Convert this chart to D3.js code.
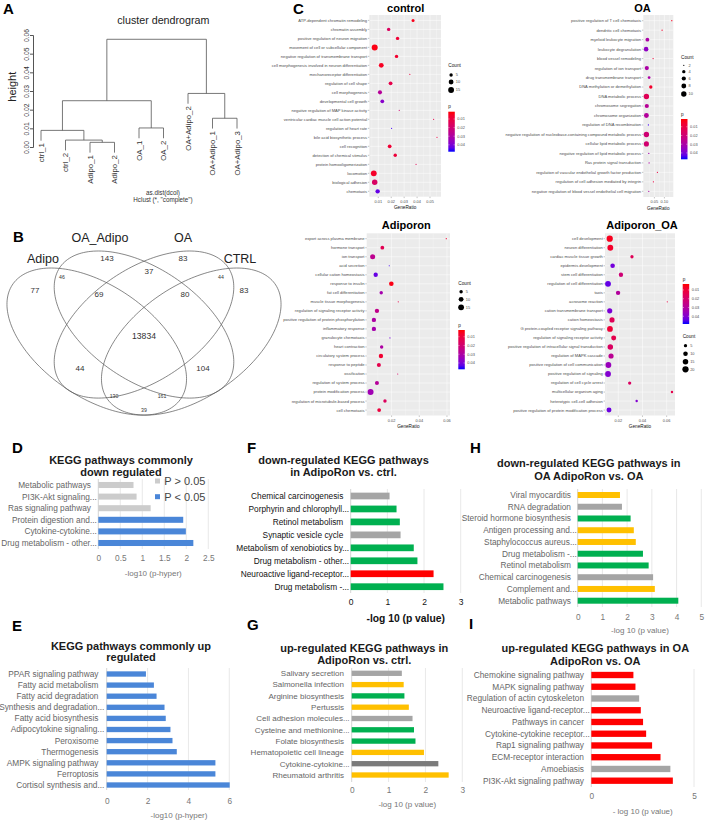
<!DOCTYPE html>
<html>
<head>
<meta charset="utf-8">
<title>Figure</title>
<script src="https://cdn.jsdelivr.net/npm/d3@7/dist/d3.min.js"></script>
<style>
  html, body { margin: 0; padding: 0; background: #fff; }
  svg { display: block; font-family: "Liberation Sans", Arial, Helvetica, sans-serif; }
</style>
</head>
<body>
<svg id="fig" width="705" height="820"></svg>
<script>
// ---------- A: cluster dendrogram ----------
const dendroLeaves = ['ctrl_1', 'ctrl_2', 'Adipo_1', 'Adipo_2', 'OA_1', 'OA_2', 'OA+Adipo_2', 'OA+Adipo_1', 'OA+Adipo_3'];
// hclust style: negative = leaf (1-based index above), positive = earlier merge row
const dendroMerges = [[-3, -4], [-2, 1], [-1, 2], [-5, -6], [-8, -9], [3, 4], [-7, 5], [6, 7]];
const dendroHeights = [0.0025, 0.0037, 0.0089, 0.0102, 0.0154, 0.0248, 0.0287, 0.0577];
const dendroTicks = [0, 0.01, 0.02, 0.03, 0.04, 0.05, 0.06];

// ---------- B: venn ----------
const vennSets = ['Adipo', 'OA_Adipo', 'OA', 'CTRL'];
const vennCounts = [143, 83, 37, 46, 44, 77, 83, 69, 80, 13834, 44, 104, 130, 161, 39];
const vennSmall = [false, false, false, true, true, false, false, false, false, false, false, false, true, true, true];

// ---------- C: GO dot plots ----------
const ctrlTerms = ['ATP-dependent chromatin remodeling', 'chromatin assembly', 'positive regulation of neuron migration',
  'movement of cell or subcellular component', 'negative regulation of transmembrane transport',
  'cell morphogenesis involved in neuron differentiation', 'mechanoreceptor differentiation', 'regulation of cell shape',
  'cell morphogenesis', 'developmental cell growth', 'negative regulation of MAP kinase activity',
  'ventricular cardiac muscle cell action potential', 'regulation of heart rate', 'bile acid biosynthetic process',
  'cell recognition', 'detection of chemical stimulus', 'protein homooligomerization', 'locomotion',
  'biological adhesion', 'chemotaxis'];
const ctrlRatio = [0.0369, 0.018, 0.0249, 0.0072, 0.0241, 0.0123, 0.0344, 0.0195, 0.0113, 0.0131,
  0.0262, 0.0528, 0.0203, 0.0554, 0.0188, 0.0231, 0.0392, 0.0065, 0.0072, 0.0095];
const ctrlCount = [4, 5, 5, 16, 5, 10, 2, 6, 7, 6, 2, 2, 2, 2, 6, 5, 2, 15, 13, 8];
const ctrlP = [0.004, 0.016, 0.008, 0.003, 0.007, 0.005, 0.01, 0.012, 0.028, 0.038,
  0.02, 0.012, 0.046, 0.01, 0.008, 0.009, 0.014, 0.006, 0.017, 0.043];

const oaTerms = ['positive regulation of T cell chemotaxis', 'dendritic cell chemotaxis', 'myeloid leukocyte migration',
  'leukocyte degranulation', 'blood vessel remodeling', 'regulation of ion transport', 'drug transmembrane transport',
  'DNA methylation or demethylation', 'DNA metabolic process', 'chromosome segregation', 'chromosome organization',
  'regulation of DNA recombination', 'negative regulation of nucleobase-containing compound metabolic process',
  'cellular lipid metabolic process', 'negative regulation of lipid metabolic process', 'Ras protein signal transduction',
  'regulation of vascular endothelial growth factor production', 'regulation of cell adhesion mediated by integrin',
  'negative regulation of blood vessel endothelial cell migration'];
const oaRatio = [0.137, 0.0885, 0.015, 0.0085, 0.0435, 0.012, 0.0235, 0.032, 0.01, 0.012,
  0.01, 0.02, 0.01, 0.01, 0.022, 0.0235, 0.065, 0.045, 0.022];
const oaCount = [2, 2, 5, 7, 2, 6, 3, 4, 10, 6, 8, 2, 10, 9, 2, 2, 2, 2, 2];
const oaP = [0.004, 0.006, 0.03, 0.036, 0.008, 0.03, 0.03, 0.006, 0.014, 0.027,
  0.028, 0.045, 0.02, 0.019, 0.032, 0.03, 0.01, 0.01, 0.03];

const adTerms = ['export across plasma membrane', 'hormone transport', 'ion transport', 'acid secretion',
  'cellular cation homeostasis', 'response to insulin', 'fat cell differentiation', 'muscle tissue morphogenesis',
  'regulation of signaling receptor activity', 'positive regulation of protein phosphorylation', 'inflammatory response',
  'granulocyte chemotaxis', 'heart contraction', 'circulatory system process', 'response to peptide',
  'ossification', 'regulation of system process', 'protein modification process',
  'regulation of microtubule-based process', 'cell chemotaxis'];
const adRatio = [0.0595, 0.0133, 0.0063, 0.0183, 0.0085, 0.0198, 0.0125, 0.0248, 0.0094, 0.0072,
  0.0072, 0.0188, 0.0128, 0.0123, 0.0108, 0.0244, 0.0094, 0.0048, 0.0152, 0.011];
const adCount = [2, 6, 11, 2, 8, 9, 5, 2, 8, 8, 8, 2, 5, 8, 7, 2, 7, 16, 5, 6];
const adP = [0.008, 0.014, 0.026, 0.045, 0.042, 0.004, 0.032, 0.012, 0.025, 0.03,
  0.032, 0.04, 0.03, 0.008, 0.013, 0.018, 0.028, 0.033, 0.016, 0.01];

const adoaTerms = ['cell development', 'neuron differentiation', 'cardiac muscle tissue growth', 'epidermis development',
  'stem cell differentiation', 'regulation of cell differentiation', 'taxis', 'acrosome reaction',
  'cation transmembrane transport', 'cation homeostasis', 'G protein-coupled receptor signaling pathway',
  'regulation of signaling receptor activity', 'positive regulation of intracellular signal transduction',
  'regulation of MAPK cascade', 'positive regulation of cell communication', 'positive regulation of signaling',
  'regulation of cell cycle arrest', 'multicellular organism aging', 'heterotypic cell-cell adhesion',
  'positive regulation of protein modification process'];
const adoaRatio = [0.0129, 0.0134, 0.0313, 0.0153, 0.0222, 0.0115, 0.0198, 0.0605, 0.0129, 0.0148,
  0.0131, 0.0162, 0.0134, 0.014, 0.0118, 0.0115, 0.0294, 0.0644, 0.0352, 0.0123];
const adoaCount = [20, 17, 5, 10, 9, 17, 9, 2, 13, 13, 17, 12, 15, 13, 17, 17, 5, 3, 3, 12];
const adoaP = [0.006, 0.008, 0.016, 0.042, 0.022, 0.044, 0.03, 0.012, 0.041, 0.016,
  0.01, 0.014, 0.018, 0.028, 0.036, 0.04, 0.018, 0.014, 0.04, 0.043];

const ctrlTicks = [0.01, 0.02, 0.03, 0.04, 0.05];
const oaTicks = [0.05, 0.10];
const adTicks = [0.02, 0.04, 0.06];
const pBreaks = [0.01, 0.02, 0.03, 0.04];

// ---------- D-I: KEGG bar charts ----------
const dTerms = ['Metabolic pathways', 'PI3K-Akt signaling...', 'Ras signaling pathway', 'Protein digestion and...',
  'Cytokine-cytokine...', 'Drug metabolism - other...'];
const dValues = [0.8, 0.87, 1.19, 1.93, 1.99, 2.16];
const dSig = ['P > 0.05', 'P > 0.05', 'P > 0.05', 'P < 0.05', 'P < 0.05', 'P < 0.05'];
const dLegend = ['P > 0.05', 'P < 0.05'];

const eTerms = ['PPAR signaling pathway', 'Fatty acid metabolism', 'Fatty acid degradation', 'Synthesis and degradation...',
  'Fatty acid biosynthesis', 'Adipocytokine signaling...', 'Peroxisome', 'Thermogenesis', 'AMPK signaling pathway',
  'Ferroptosis', 'Cortisol synthesis and...'];
const eValues = [1.92, 2.31, 2.44, 2.83, 2.89, 3.12, 3.22, 3.43, 5.32, 5.32, 6.02];

const fTerms = ['Chemical carcinogenesis', 'Porphyrin and chlorophyll...', 'Retinol metabolism', 'Synaptic vesicle cycle',
  'Metabolism of xenobiotics by...', 'Drug metabolism - other...', 'Neuroactive ligand-receptor...', 'Drug metabolism -...'];
const fValues = [1.06, 1.25, 1.34, 1.36, 1.72, 1.82, 2.26, 2.53];
const fGroups = ['grey', 'green', 'green', 'grey', 'green', 'green', 'red', 'green'];

const gTerms = ['Salivary secretion', 'Salmonella infection', 'Arginine biosynthesis', 'Pertussis',
  'Cell adhesion molecules...', 'Cysteine and methionine...', 'Folate biosynthesis', 'Hematopoietic cell lineage',
  'Cytokine-cytokine...', 'Rheumatoid arthritis'];
const gValues = [1.36, 1.41, 1.43, 1.55, 1.65, 1.69, 1.73, 1.96, 2.35, 2.63];
const gGroups = ['grey', 'yellow', 'green', 'yellow', 'grey', 'green', 'green', 'yellow', 'darkgrey', 'yellow'];

const hTerms = ['Viral myocarditis', 'RNA degradation', 'Steroid hormone biosynthesis', 'Antigen processing and...',
  'Staphylococcus aureus...', 'Drug metabolism -...', 'Retinol metabolism', 'Chemical carcinogenesis',
  'Complement and...', 'Metabolic pathways'];
const hValues = [1.71, 1.79, 2.14, 2.27, 2.35, 2.64, 2.87, 3.05, 3.12, 4.07];
const hGroups = ['yellow', 'grey', 'green', 'yellow', 'yellow', 'green', 'green', 'grey', 'yellow', 'green'];

const iTerms = ['Chemokine signaling pathway', 'MAPK signaling pathway', 'Regulation of actin cytoskeleton',
  'Neuroactive ligand-receptor...', 'Pathways in cancer', 'Cytokine-cytokine receptor...', 'Rap1 signaling pathway',
  'ECM-receptor interaction', 'Amoebiasis', 'PI3K-Akt signaling pathway'];
const iValues = [2.05, 2.15, 2.33, 2.41, 2.52, 2.67, 2.96, 3.37, 3.85, 3.97];
const iGroups = ['red', 'red', 'grey', 'red', 'red', 'red', 'red', 'red', 'grey', 'red'];

const panelLetters = ['A', 'B', 'C', 'D', 'E', 'F', 'G', 'H', 'I'];

// ======================================================================
const svg = d3.select('#fig');
const groupColor = { grey: '#a5a5a5', green: '#00b050', red: '#ff0000', yellow: '#ffc000', darkgrey: '#7b7b7b' };
const sigColor = { 'P > 0.05': '#cccccc', 'P < 0.05': '#4a86d8' };

function label(g, x, y, s, o = {}) {
  return g.append('text').attr('x', x).attr('y', y).attr('dy', o.dy || '0.35em')
    .attr('font-size', o.size || 8).attr('fill', o.fill || '#000')
    .attr('font-weight', o.bold ? 'bold' : null)
    .attr('text-anchor', o.anchor || 'middle').text(s);
}

// ---------- A ----------
(function drawDendrogram() {
  const g = svg.append('g');
  const y = d3.scaleLinear().domain([0, 0.06]).range([147, 35]);
  const x = d3.scalePoint().domain(dendroLeaves).range([41, 237]);
  const hang = 0.1 * (d3.max(dendroHeights) - d3.min(dendroHeights));
  const nodes = [];
  const ref = (r, h) => r < 0
    ? { x: x(dendroLeaves[-r - 1]), h: h - hang, leaf: dendroLeaves[-r - 1] }
    : nodes[r - 1];

  dendroMerges.forEach((m, i) => {
    const h = dendroHeights[i];
    const a = ref(m[0], h), b = ref(m[1], h);
    nodes.push({ x: (a.x + b.x) / 2, h });
    const p = d3.path();
    p.moveTo(a.x, y(a.h)); p.lineTo(a.x, y(h)); p.lineTo(b.x, y(h)); p.lineTo(b.x, y(b.h));
    g.append('path').attr('d', p.toString()).attr('fill', 'none')
      .attr('stroke', '#555').attr('stroke-width', 0.8);
    [a, b].filter(c => c.leaf).forEach(c => {
      g.append('text').attr('transform', `translate(${c.x},${y(c.h) + 2.5}) rotate(-90)`)
        .attr('text-anchor', 'end').attr('dy', '0.35em')
        .attr('font-size', 7.8).attr('fill', '#333').text(c.leaf);
    });
  });

  const ax = g.append('g').attr('transform', 'translate(33,0)')
    .call(d3.axisLeft(y).tickValues(dendroTicks).tickFormat(d3.format('.2f')).tickSize(3));
  ax.select('.domain').attr('stroke', '#555');
  ax.selectAll('.tick line').attr('stroke', '#555');
  ax.selectAll('.tick text').attr('x', 0).attr('dy', 0)
    .attr('transform', 'translate(-4,0) rotate(-90)').attr('text-anchor', 'middle')
    .attr('font-size', 6.8).attr('fill', '#333');

  label(g, 163.3, 20.5, 'cluster dendrogram', { size: 10.7, fill: '#222' });
  g.append('text').attr('transform', 'translate(12.5,86.7) rotate(-90)').attr('text-anchor', 'middle')
    .attr('dy', '0.35em').attr('font-size', 11).attr('fill', '#222').text('height');
  label(g, 163, 192.7, 'as.dist(dcol)', { size: 6.3, fill: '#333' });
  label(g, 163, 199.5, 'Hclust (*, "complete")', { size: 6.3, fill: '#333' });
})();

// ---------- B ----------
(function drawVenn() {
  const g = svg.append('g');
  const x = d3.scaleLinear().domain([0, 1]).range([-13.5, 301.5]);
  const y = d3.scaleLinear().domain([0, 1]).range([471.6, 213.6]);
  const shapes = [
    { cx: 0.35, cy: 0.504, rot: -45 }, { cx: 0.5, cy: 0.57, rot: -45 },
    { cx: 0.5, cy: 0.57, rot: 45 }, { cx: 0.65, cy: 0.504, rot: 45 }];
  const semiA = 0.35, semiB = 0.2;
  const line = d3.line().x(d => x(d[0])).y(d => y(d[1])).curve(d3.curveLinearClosed);
  shapes.forEach(s => {
    const th = s.rot * Math.PI / 180;
    const pts = d3.range(0, 360, 2).map(t => {
      const r = t * Math.PI / 180, u = semiA * Math.cos(r), v = semiB * Math.sin(r);
      return [s.cx + u * Math.cos(th) - v * Math.sin(th), s.cy + u * Math.sin(th) + v * Math.cos(th)];
    });
    g.append('path').attr('d', line(pts)).attr('fill', 'none').attr('stroke', '#555').attr('stroke-width', 0.7);
  });

  const setPos = [[0.1794, 0.824], [0.3603, 0.9054], [0.6238, 0.9054], [0.8048, 0.824]];
  vennSets.forEach((s, i) => label(g, x(setPos[i][0]), y(setPos[i][1]), s, { size: 12.5, fill: '#222' }));

  const regionPos = [[0.3825, 0.8279], [0.6238, 0.8279], [0.5159, 0.7775], [0.2397, 0.7543], [0.7444, 0.7543],
    [0.154, 0.7039], [0.8175, 0.7039], [0.3571, 0.6884], [0.6302, 0.6884], [0.5, 0.5256],
    [0.2968, 0.4016], [0.6873, 0.4016], [0.4048, 0.293], [0.5571, 0.293], [0.5, 0.2388]];
  vennCounts.forEach((c, i) => label(g, x(regionPos[i][0]), y(regionPos[i][1]), c,
    { size: vennSmall[i] ? 5.2 : (c > 9999 ? 8.6 : 8), fill: '#333' }));
})();

// ---------- C ----------
function dotPlot(cfg) {
  const g = svg.append('g');
  const [x0, x1, y0, y1] = cfg.box;
  const x = d3.scaleLinear().domain(cfg.xDomain).range([x0, x1]);
  const y = d3.scalePoint().domain(d3.range(cfg.terms.length)).range([y0, y1]).padding(0.6);
  const col = d3.scaleLinear().domain(cfg.pLimits).range(['#ff0000', '#0000ff']).interpolate(d3.interpolateLab);
  const sz = d3.scaleSqrt().domain([0, cfg.countDomain[1] - cfg.countDomain[0]]).range([0, 1]);
  const rad = c => cfg.rRange[0] + sz(Math.max(0, c - cfg.countDomain[0])) * (cfg.rRange[1] - cfg.rRange[0]);

  g.append('rect').attr('x', x0).attr('y', y0).attr('width', x1 - x0).attr('height', y1 - y0).attr('fill', '#ebebeb');
  const st = cfg.xTicks[1] - cfg.xTicks[0];
  const minor = d3.range(cfg.xTicks[0] - st / 2, cfg.xDomain[1], st).filter(v => v > cfg.xDomain[0]);
  g.selectAll('line.mn').data(minor).join('line').attr('x1', d => x(d)).attr('x2', d => x(d))
    .attr('y1', y0).attr('y2', y1).attr('stroke', '#fff').attr('stroke-width', 0.25);
  g.selectAll('line.mj').data(cfg.xTicks).join('line').attr('x1', d => x(d)).attr('x2', d => x(d))
    .attr('y1', y0).attr('y2', y1).attr('stroke', '#fff').attr('stroke-width', 0.5);
  g.selectAll('line.rw').data(y.domain()).join('line').attr('x1', x0).attr('x2', x1)
    .attr('y1', d => y(d)).attr('y2', d => y(d)).attr('stroke', '#fff').attr('stroke-width', 0.5);

  g.selectAll('circle.pt').data(cfg.terms).join('circle')
    .attr('cx', (d, i) => x(cfg.ratio[i])).attr('cy', (d, i) => y(i))
    .attr('r', (d, i) => rad(cfg.count[i])).attr('fill', (d, i) => col(cfg.p[i]));

  // y axis
  g.selectAll('line.yt').data(y.domain()).join('line').attr('x1', x0 - 1.4).attr('x2', x0)
    .attr('y1', d => y(d)).attr('y2', d => y(d)).attr('stroke', '#333').attr('stroke-width', 0.3);
  g.selectAll('text.yl').data(cfg.terms).join('text').attr('x', x0 - 2.2).attr('y', (d, i) => y(i))
    .attr('dy', '0.35em').attr('text-anchor', 'end').attr('font-size', 4.1).attr('fill', '#4d4d4d').text(d => d);
  // x axis
  g.selectAll('line.xt').data(cfg.xTicks).join('line').attr('x1', d => x(d)).attr('x2', d => x(d))
    .attr('y1', y1).attr('y2', y1 + 1.4).attr('stroke', '#333').attr('stroke-width', 0.3);
  g.selectAll('text.xl').data(cfg.xTicks).join('text').attr('x', d => x(d)).attr('y', y1 + 4.8)
    .attr('dy', '0.35em').attr('text-anchor', 'middle').attr('font-size', 3.9).attr('fill', '#4d4d4d')
    .text(d3.format('.2f'));
  label(g, (x0 + x1) / 2, y1 + 11, 'GeneRatio', { size: 4.7, fill: '#111' });
  g.append('text').attr('x', cfg.titleX).attr('y', cfg.titleBase).attr('text-anchor', 'middle')
    .attr('font-size', 11).attr('font-weight', 'bold').attr('fill', '#000').text(cfg.title);

  // count legend
  const L = cfg.legend;
  g.append('text').attr('x', L.x).attr('y', L.countTitle).attr('font-size', 4.7).attr('fill', '#111').text('Count');
  cfg.countBreaks.forEach((b, i) => {
    g.append('circle').attr('cx', L.x + 2.8).attr('cy', L.countY[i]).attr('r', rad(b)).attr('fill', '#000');
    g.append('text').attr('x', L.x + 7.5).attr('y', L.countY[i]).attr('dy', '0.35em')
      .attr('font-size', 3.9).attr('fill', '#4d4d4d').text(b);
  });
  // p colour bar
  g.append('text').attr('x', L.x).attr('y', L.pTitle).attr('font-size', 4.7).attr('fill', '#111').text('p');
  const gid = 'grad' + cfg.title;
  const grad = svg.append('defs').append('linearGradient').attr('id', gid)
    .attr('x1', 0).attr('y1', 0).attr('x2', 0).attr('y2', 1);
  const pv = d3.scaleLinear().domain([0, 1]).range(cfg.pLimits);
  d3.range(0, 1.0001, 0.1).forEach(t => grad.append('stop').attr('offset', t).attr('stop-color', col(pv(t))));
  const bw = 6.5;
  g.append('rect').attr('x', L.x).attr('y', L.bar[0]).attr('width', bw).attr('height', L.bar[1] - L.bar[0])
    .attr('fill', `url(#${gid})`);
  const py = d3.scaleLinear().domain(cfg.pLimits).range(L.bar);
  pBreaks.forEach(b => {
    g.append('line').attr('x1', L.x).attr('x2', L.x + 1.3).attr('y1', py(b)).attr('y2', py(b))
      .attr('stroke', '#fff').attr('stroke-width', 0.4);
    g.append('line').attr('x1', L.x + bw - 1.3).attr('x2', L.x + bw).attr('y1', py(b)).attr('y2', py(b))
      .attr('stroke', '#fff').attr('stroke-width', 0.4);
    g.append('text').attr('x', L.x + bw + 2.5).attr('y', py(b)).attr('dy', '0.35em')
      .attr('font-size', 3.9).attr('fill', '#4d4d4d').text(d3.format('.2f')(b));
  });
}

dotPlot({ title: 'control', terms: ctrlTerms, ratio: ctrlRatio, count: ctrlCount, p: ctrlP,
  box: [369.3, 441, 15, 196.7], xDomain: [0.00304, 0.0585], xTicks: ctrlTicks,
  titleX: 405.7, titleBase: 11.7, pLimits: [0.0015, 0.048], countDomain: [2, 16], rRange: [0.6, 3.0],
  countBreaks: [5, 10, 15],
  legend: { x: 448.3, countTitle: 67.3, countY: [75, 82, 90], pTitle: 108.3, bar: [111.7, 151.7] } });

dotPlot({ title: 'OA', terms: oaTerms, ratio: oaRatio, count: oaCount, p: oaP,
  box: [643.3, 673.3, 15, 197], xDomain: [-0.0055, 0.1445], xTicks: oaTicks,
  titleX: 642.5, titleBase: 11.7, pLimits: [0.0011, 0.0473], countDomain: [2, 10], rRange: [0.65, 2.7],
  countBreaks: [2, 4, 6, 8, 10],
  legend: { x: 681, countTitle: 58.6, countY: [65.3, 71.7, 78.5, 86, 94], pTitle: 116, bar: [119, 159.3] } });

dotPlot({ title: 'Adiporon', terms: adTerms, ratio: adRatio, count: adCount, p: adP,
  box: [366.7, 450, 233.3, 415.5], xDomain: [0.002, 0.0622], xTicks: adTicks,
  titleX: 406.3, titleBase: 228.5, pLimits: [0.0023, 0.0472], countDomain: [2, 16], rRange: [0.6, 3.0],
  countBreaks: [5, 10, 15],
  legend: { x: 458.3, countTitle: 285, countY: [291.7, 299.3, 307.3], pTitle: 326.7, bar: [330, 369.3] } });

dotPlot({ title: 'Adiporon_OA', terms: adoaTerms, ratio: adoaRatio, count: adoaCount, p: adoaP,
  box: [605, 675, 233.3, 415.5], xDomain: [0.009, 0.0669], xTicks: adTicks,
  titleX: 642, titleBase: 228.5, pLimits: [0.0032, 0.0488], countDomain: [2, 21], rRange: [0.6, 3.2],
  countBreaks: [5, 10, 15, 20],
  legend: { x: 682.7, countTitle: 338.3, countY: [345.7, 353.7, 361.7, 369.3], pTitle: 281, bar: [284, 324] } });

// ---------- D-I ----------
function barChart(cfg) {
  const g = svg.append('g');
  const n = cfg.terms.length;
  const x = d3.scaleLinear().domain(cfg.xDomain).range(cfg.xRange);
  const step = (cfg.yLast - cfg.yFirst) / (n - 1);
  const y = d3.scaleBand().domain(d3.range(n)).range([cfg.yFirst - step / 2, cfg.yLast + step / 2])
    .paddingInner(cfg.pad).paddingOuter(cfg.pad / 2);

  g.selectAll('line.grid').data(cfg.ticks).join('line')
    .attr('x1', d => x(d)).attr('x2', d => x(d)).attr('y1', cfg.gridY[0]).attr('y2', cfg.gridY[1])
    .attr('stroke', d => d === 0 ? '#c8c8c8' : '#e2e2e2').attr('stroke-width', 0.8);

  g.selectAll('rect.bar').data(cfg.values).join('rect')
    .attr('x', x(0)).attr('y', (d, i) => y(i)).attr('width', d => x(d) - x(0))
    .attr('height', y.bandwidth()).attr('fill', (d, i) => cfg.colors[i]);

  const ls = cfg.labelSize || 8.3;
  g.selectAll('text.cat').data(cfg.terms).join('text')
    .attr('x', d => cfg.labelX + (d.endsWith('...') ? ls * 0.7 : 0))
    .attr('y', (d, i) => y(i) + y.bandwidth() / 2).attr('dy', '0.35em')
    .attr('text-anchor', 'end').attr('font-size', ls).attr('fill', cfg.labelFill || '#666').text(d => d);

  const ax = g.append('g').attr('transform', `translate(0,${cfg.tickY})`)
    .call(d3.axisBottom(x).tickValues(cfg.ticks).tickSize(0).tickPadding(0).tickFormat(d => d));
  ax.select('.domain').remove();
  ax.selectAll('text').attr('y', 0).attr('dy', '0.35em').attr('font-size', cfg.tickSize || 8.3)
    .attr('fill', cfg.tickFill || '#777').attr('font-family', null);

  label(g, cfg.axisTitleX, cfg.axisTitleY, cfg.axisTitle,
    { size: cfg.axisTitleSize || 8, fill: cfg.axisTitleFill || '#777', bold: cfg.axisTitleBold });
  cfg.titleLines.forEach((t, i) => label(g, cfg.titleX, cfg.titleY[i], t, { size: 11, bold: true, fill: '#1a1a1a' }));
  return g;
}

const gD = barChart({ terms: dTerms, values: dValues, colors: dSig.map(s => sigColor[s]),
  xDomain: [0, 2.5], xRange: [98.3, 208.3], ticks: [0, 0.5, 1, 1.5, 2, 2.5],
  yFirst: 485, yLast: 543, pad: 0.48, gridY: [479, 549], labelX: 91, tickY: 558.3,
  axisTitle: '-log10 (p-hyper)', axisTitleX: 153.3, axisTitleY: 573.3,
  titleLines: ['KEGG pathways commonly', 'down regulated'], titleX: 121, titleY: [460, 471.7] });
dLegend.forEach((s, i) => {
  const cy = [481, 496.7][i];
  gD.append('rect').attr('x', 155).attr('y', cy - 2.5).attr('width', 5).attr('height', 5).attr('fill', sigColor[s]);
  label(gD, 164.3, cy, s, { size: 11, fill: '#444', anchor: 'start' });
});

barChart({ terms: eTerms, values: eValues, colors: eTerms.map(() => sigColor['P < 0.05']),
  xDomain: [0, 6], xRange: [106.7, 229.3], ticks: [0, 2, 4, 6],
  yFirst: 674, yLast: 785, pad: 0.52, gridY: [668, 790], labelX: 98.5, tickY: 800.7,
  axisTitle: '-log10 (p-hyper)', axisTitleX: 179, axisTitleY: 815,
  titleLines: ['KEGG pathways commonly up', 'regulated'], titleX: 131, titleY: [645.7, 656.7] });

barChart({ terms: fTerms, values: fValues, colors: fGroups.map(k => groupColor[k]),
  xDomain: [0, 3], xRange: [350.7, 460.7], ticks: [0, 1, 2, 3],
  yFirst: 496, yLast: 586.7, pad: 0.48, gridY: [489, 593], labelX: 343.3, labelFill: '#111',
  tickY: 602.3, tickFill: '#111', tickSize: 8.5,
  axisTitle: '-log 10 (p value)', axisTitleX: 405.7, axisTitleY: 618.3, axisTitleSize: 10.3,
  axisTitleFill: '#111', axisTitleBold: true,
  titleLines: ['down-regulated KEGG pathways', 'in AdipoRon vs. ctrl.'], titleX: 343.5, titleY: [460, 471.7] });

barChart({ terms: gTerms, values: gValues, colors: gGroups.map(k => groupColor[k]),
  xDomain: [0, 3], xRange: [351.7, 462.3], ticks: [0, 1, 2, 3],
  yFirst: 673.3, yLast: 775, pad: 0.53, gridY: [668, 782], labelX: 344, labelSize: 8, tickY: 790,
  axisTitle: '-log 10 (p value)', axisTitleX: 407.3, axisTitleY: 804.3,
  titleLines: ['up-regulated KEGG pathways in', 'AdipoRon vs. ctrl.'], titleX: 364.2, titleY: [647.7, 660] });

barChart({ terms: hTerms, values: hValues, colors: hGroups.map(k => groupColor[k]),
  xDomain: [0, 5], xRange: [577.7, 701.3], ticks: [0, 1, 2, 3, 4, 5],
  yFirst: 495, yLast: 600.7, pad: 0.49, gridY: [489, 607], labelX: 571, tickY: 616.7,
  axisTitle: '-log 10 (p value)', axisTitleX: 640, axisTitleY: 630,
  titleLines: ['down-regulated KEGG pathways in', 'OA AdipoRon vs. OA'], titleX: 588.8, titleY: [463.3, 476] });

barChart({ terms: iTerms, values: iValues, colors: iGroups.map(k => groupColor[k]),
  xDomain: [0, 5], xRange: [591.3, 694], ticks: [0, 5],
  yFirst: 675, yLast: 780.7, pad: 0.46, gridY: [669, 787], labelX: 584, tickY: 796,
  axisTitle: '- log 10 (p value)', axisTitleX: 642.7, axisTitleY: 810.7,
  titleLines: ['up-regulated KEGG pathways in OA', 'AdipoRon vs. OA'], titleX: 595.3, titleY: [648.3, 661] });

// ---------- panel letters ----------
const letterPos = [[3, 14], [13, 242], [293, 14], [12, 453], [12, 631], [247, 453], [247, 630], [470, 453], [469, 629]];
svg.selectAll('text.letter').data(panelLetters).join('text')
  .attr('x', (d, i) => letterPos[i][0]).attr('y', (d, i) => letterPos[i][1])
  .attr('font-size', 15).attr('font-weight', 'bold').attr('fill', '#000').text(d => d);
</script>
</body>
</html>
